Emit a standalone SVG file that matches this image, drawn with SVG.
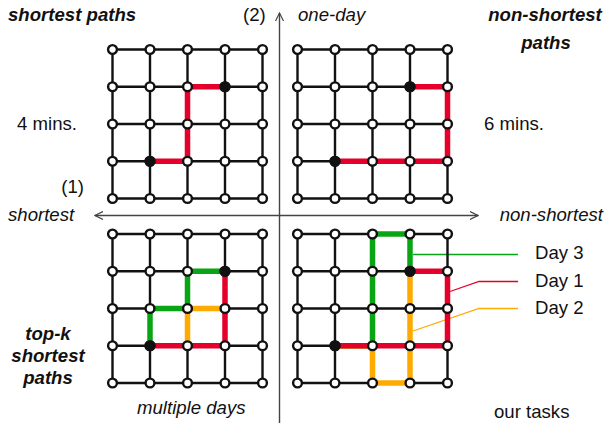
<svg xmlns="http://www.w3.org/2000/svg" xmlns:xlink="http://www.w3.org/1999/xlink" width="606" height="426" viewBox="0 0 606 426">
<style>
.t{font-family:"Liberation Sans",Arial,sans-serif;font-size:18.6px;fill:#111}
.b{font-weight:bold;font-style:italic}
.i{font-style:italic}
.g{fill:none;stroke:#111;stroke-width:2.4}
.n{fill:#fff;stroke:#111;stroke-width:2.4}
.k{fill:#111;stroke:#111;stroke-width:2.4}
.red{fill:none;stroke:#e4002b;stroke-width:5.5;stroke-linejoin:miter;stroke-linecap:square}
.grn{fill:none;stroke:#0aa514;stroke-width:5.5;stroke-linejoin:miter;stroke-linecap:square}
.org{fill:none;stroke:#ffaa00;stroke-width:5.5;stroke-linejoin:miter;stroke-linecap:square}
.ax{fill:none;stroke:#444;stroke-width:1.4}
</style>
<defs>
<path id="gl" class="g" d="M0 0H150M0 37.25H150M0 74.5H150M0 111.75H150M0 149H150M0 0V149M37.5 0V149M75 0V149M112.5 0V149M150 0V149"/>
<g id="gn">
<circle class="n" cx="0" cy="0" r="4.4"/><circle class="n" cx="37.5" cy="0" r="4.4"/><circle class="n" cx="75" cy="0" r="4.4"/><circle class="n" cx="112.5" cy="0" r="4.4"/><circle class="n" cx="150" cy="0" r="4.4"/>
<circle class="n" cx="0" cy="37.25" r="4.4"/><circle class="n" cx="37.5" cy="37.25" r="4.4"/><circle class="n" cx="75" cy="37.25" r="4.4"/><circle class="n" cx="112.5" cy="37.25" r="4.4"/><circle class="n" cx="150" cy="37.25" r="4.4"/>
<circle class="n" cx="0" cy="74.5" r="4.4"/><circle class="n" cx="37.5" cy="74.5" r="4.4"/><circle class="n" cx="75" cy="74.5" r="4.4"/><circle class="n" cx="112.5" cy="74.5" r="4.4"/><circle class="n" cx="150" cy="74.5" r="4.4"/>
<circle class="n" cx="0" cy="111.75" r="4.4"/><circle class="n" cx="37.5" cy="111.75" r="4.4"/><circle class="n" cx="75" cy="111.75" r="4.4"/><circle class="n" cx="112.5" cy="111.75" r="4.4"/><circle class="n" cx="150" cy="111.75" r="4.4"/>
<circle class="n" cx="0" cy="149" r="4.4"/><circle class="n" cx="37.5" cy="149" r="4.4"/><circle class="n" cx="75" cy="149" r="4.4"/><circle class="n" cx="112.5" cy="149" r="4.4"/><circle class="n" cx="150" cy="149" r="4.4"/>
<circle class="k" cx="112.5" cy="37.25" r="4.4"/><circle class="k" cx="37.5" cy="111.75" r="4.4"/>
</g>
<marker id="ah" viewBox="0 0 10 10" refX="9" refY="5" markerWidth="9" markerHeight="9" markerUnits="userSpaceOnUse" orient="auto-start-reverse">
<path d="M0 0.5L9 5L0 9.5" fill="none" stroke="#444" stroke-width="1.3"/>
</marker>
</defs>

<g id="connectors">
<path class="ax" d="M279.5 423V13" marker-end="url(#ah)"/>
<path class="ax" d="M95 215.5H478" marker-start="url(#ah)" marker-end="url(#ah)"/>
<path fill="none" stroke="#0aa514" stroke-width="1.3" d="M413 254.5H518"/>
<path fill="none" stroke="#e4002b" stroke-width="1.3" d="M450 291.5L479 281.5H518"/>
<path fill="none" stroke="#ffaa00" stroke-width="1.3" d="M413 331L479 308.5H518"/>
</g>

<g id="q-shortest" transform="translate(112.5 49.5)">
<use href="#gl"/>
<polyline class="red" points="112.5,37.25 75,37.25 75,111.75 37.5,111.75"/>
<use href="#gn"/>
</g>

<g id="q-nonshortest" transform="translate(297.5 49.5)">
<use href="#gl"/>
<polyline class="red" points="112.5,37.25 150,37.25 150,111.75 37.5,111.75"/>
<use href="#gn"/>
</g>

<g id="q-topk" transform="translate(112.5 234)">
<use href="#gl"/>
<polyline class="grn" points="112.5,37.25 75,37.25 75,74.5 37.5,74.5 37.5,111.75"/>
<polyline class="org" points="112.5,74.5 75,74.5 75,111.75"/>
<polyline class="red" points="112.5,37.25 112.5,111.75 37.5,111.75"/>
<use href="#gn"/>
</g>

<g id="q-ourtasks" transform="translate(297.5 234)">
<use href="#gl"/>
<polyline class="grn" points="112.5,37.25 112.5,0 75,0 75,111.75 37.5,111.75"/>
<polyline class="org" points="112.5,37.25 112.5,149 75,149 75,111.75 37.5,111.75"/>
<polyline class="red" points="112.5,37.25 150,37.25 150,111.75 37.5,111.75"/>
<use href="#gn"/>
</g>

<g id="labels">
<text class="t b" x="8" y="21">shortest paths</text>
<text class="t" x="243" y="21">(2)</text>
<text class="t i" x="298" y="21">one-day</text>
<text class="t b" x="545" y="21" text-anchor="middle">non-shortest</text>
<text class="t b" x="546" y="49" text-anchor="middle">paths</text>
<text class="t" x="17" y="130">4 mins.</text>
<text class="t" x="484" y="130">6 mins.</text>
<text class="t" x="84" y="193" text-anchor="end">(1)</text>
<text class="t i" x="8" y="221">shortest</text>
<text class="t i" x="603" y="221" text-anchor="end">non-shortest</text>
<text class="t" x="535" y="259">Day 3</text>
<text class="t" x="535" y="287">Day 1</text>
<text class="t" x="535" y="314">Day 2</text>
<text class="t b" x="48" y="340" text-anchor="middle">top-k</text>
<text class="t b" x="48" y="362" text-anchor="middle">shortest</text>
<text class="t b" x="48" y="384" text-anchor="middle">paths</text>
<text class="t i" x="137" y="414">multiple days</text>
<text class="t" x="494" y="418">our tasks</text>
</g>
</svg>
